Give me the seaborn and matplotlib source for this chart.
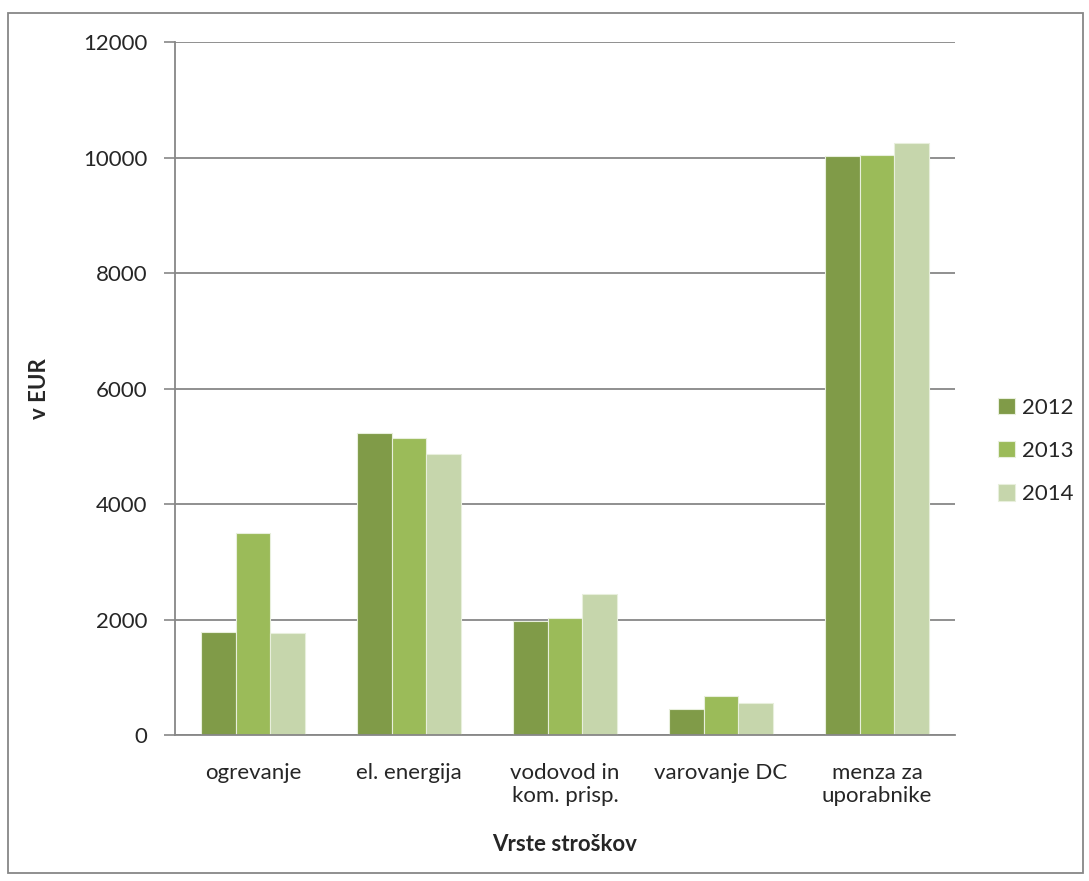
import matplotlib
matplotlib.use("Agg")
import matplotlib.pyplot as plt
import seaborn as sns
import pandas as pd
from matplotlib.patches import Rectangle

categories = ["ogrevanje", "el. energija", "vodovod in\nkom. prisp.", "varovanje DC", "menza za\nuporabnike"]
years = ["2012", "2013", "2014"]
v2012 = [1780, 5230, 1967, 446, 10035]
v2013 = [3503, 5142, 2031, 672, 10040]
v2014 = [1775, 4865, 2443, 561, 10260]
yticks = [0, 2000, 4000, 6000, 8000, 10000, 12000]
colors = ["#809B48", "#9BBB59", "#C6D6AC"]

rows = []
for yr, vals in zip(years, [v2012, v2013, v2014]):
    for c, v in zip(categories, vals):
        rows.append({"cat": c, "year": yr, "value": v})
df = pd.DataFrame(rows)

sns.set_theme(style="white")
plt.rcParams['font.family'] = ['Lato', 'DejaVu Sans']

fig = plt.figure(figsize=(10.89, 8.81), dpi=100)
ax = fig.add_axes([0.1607, 0.1657, 0.877 - 0.1607, 0.952 - 0.1657])

sns.barplot(data=df, x="cat", y="value", hue="year", palette=colors,
            order=categories, hue_order=years, width=0.667, ax=ax,
            edgecolor="#E8EFDC", linewidth=0.8, saturation=1, errorbar=None)

ax.set_ylim(0, 12000)
ax.set_xlim(-0.5, len(categories) - 0.5)
ax.set_yticks(yticks)
ax.set_yticklabels([str(t) for t in yticks], fontsize=16)
ax.tick_params(axis='x', labelsize=16, length=0, pad=20)
ax.tick_params(axis='y', length=8, width=1.2, color="#878787", left=True, pad=12)
ax.yaxis.grid(True, color="#878787", linewidth=1.3)
ax.set_axisbelow(True)
for s in ["top", "right"]:
    ax.spines[s].set_visible(False)
for s in ["left", "bottom"]:
    ax.spines[s].set_color("#878787")
    ax.spines[s].set_linewidth(1.3)

ax.set_ylabel("v EUR", fontsize=16, fontweight="bold", labelpad=24)
ax.set_xlabel("Vrste stroškov", fontsize=16, fontweight="bold", labelpad=20)

leg = ax.legend(loc="center left", bbox_to_anchor=(1.03, 0.41), frameon=False,
                fontsize=16, handlelength=0.75, handleheight=0.75,
                handletextpad=0.3, labelspacing=1.05)

fig.patches.append(Rectangle((8 / 1089, 1 - 873 / 881), (1083 - 8) / 1089, (873 - 13) / 881,
                             transform=fig.transFigure, fill=False,
                             edgecolor="#878787", linewidth=1.3))

fig.savefig("out.png", dpi=100)
